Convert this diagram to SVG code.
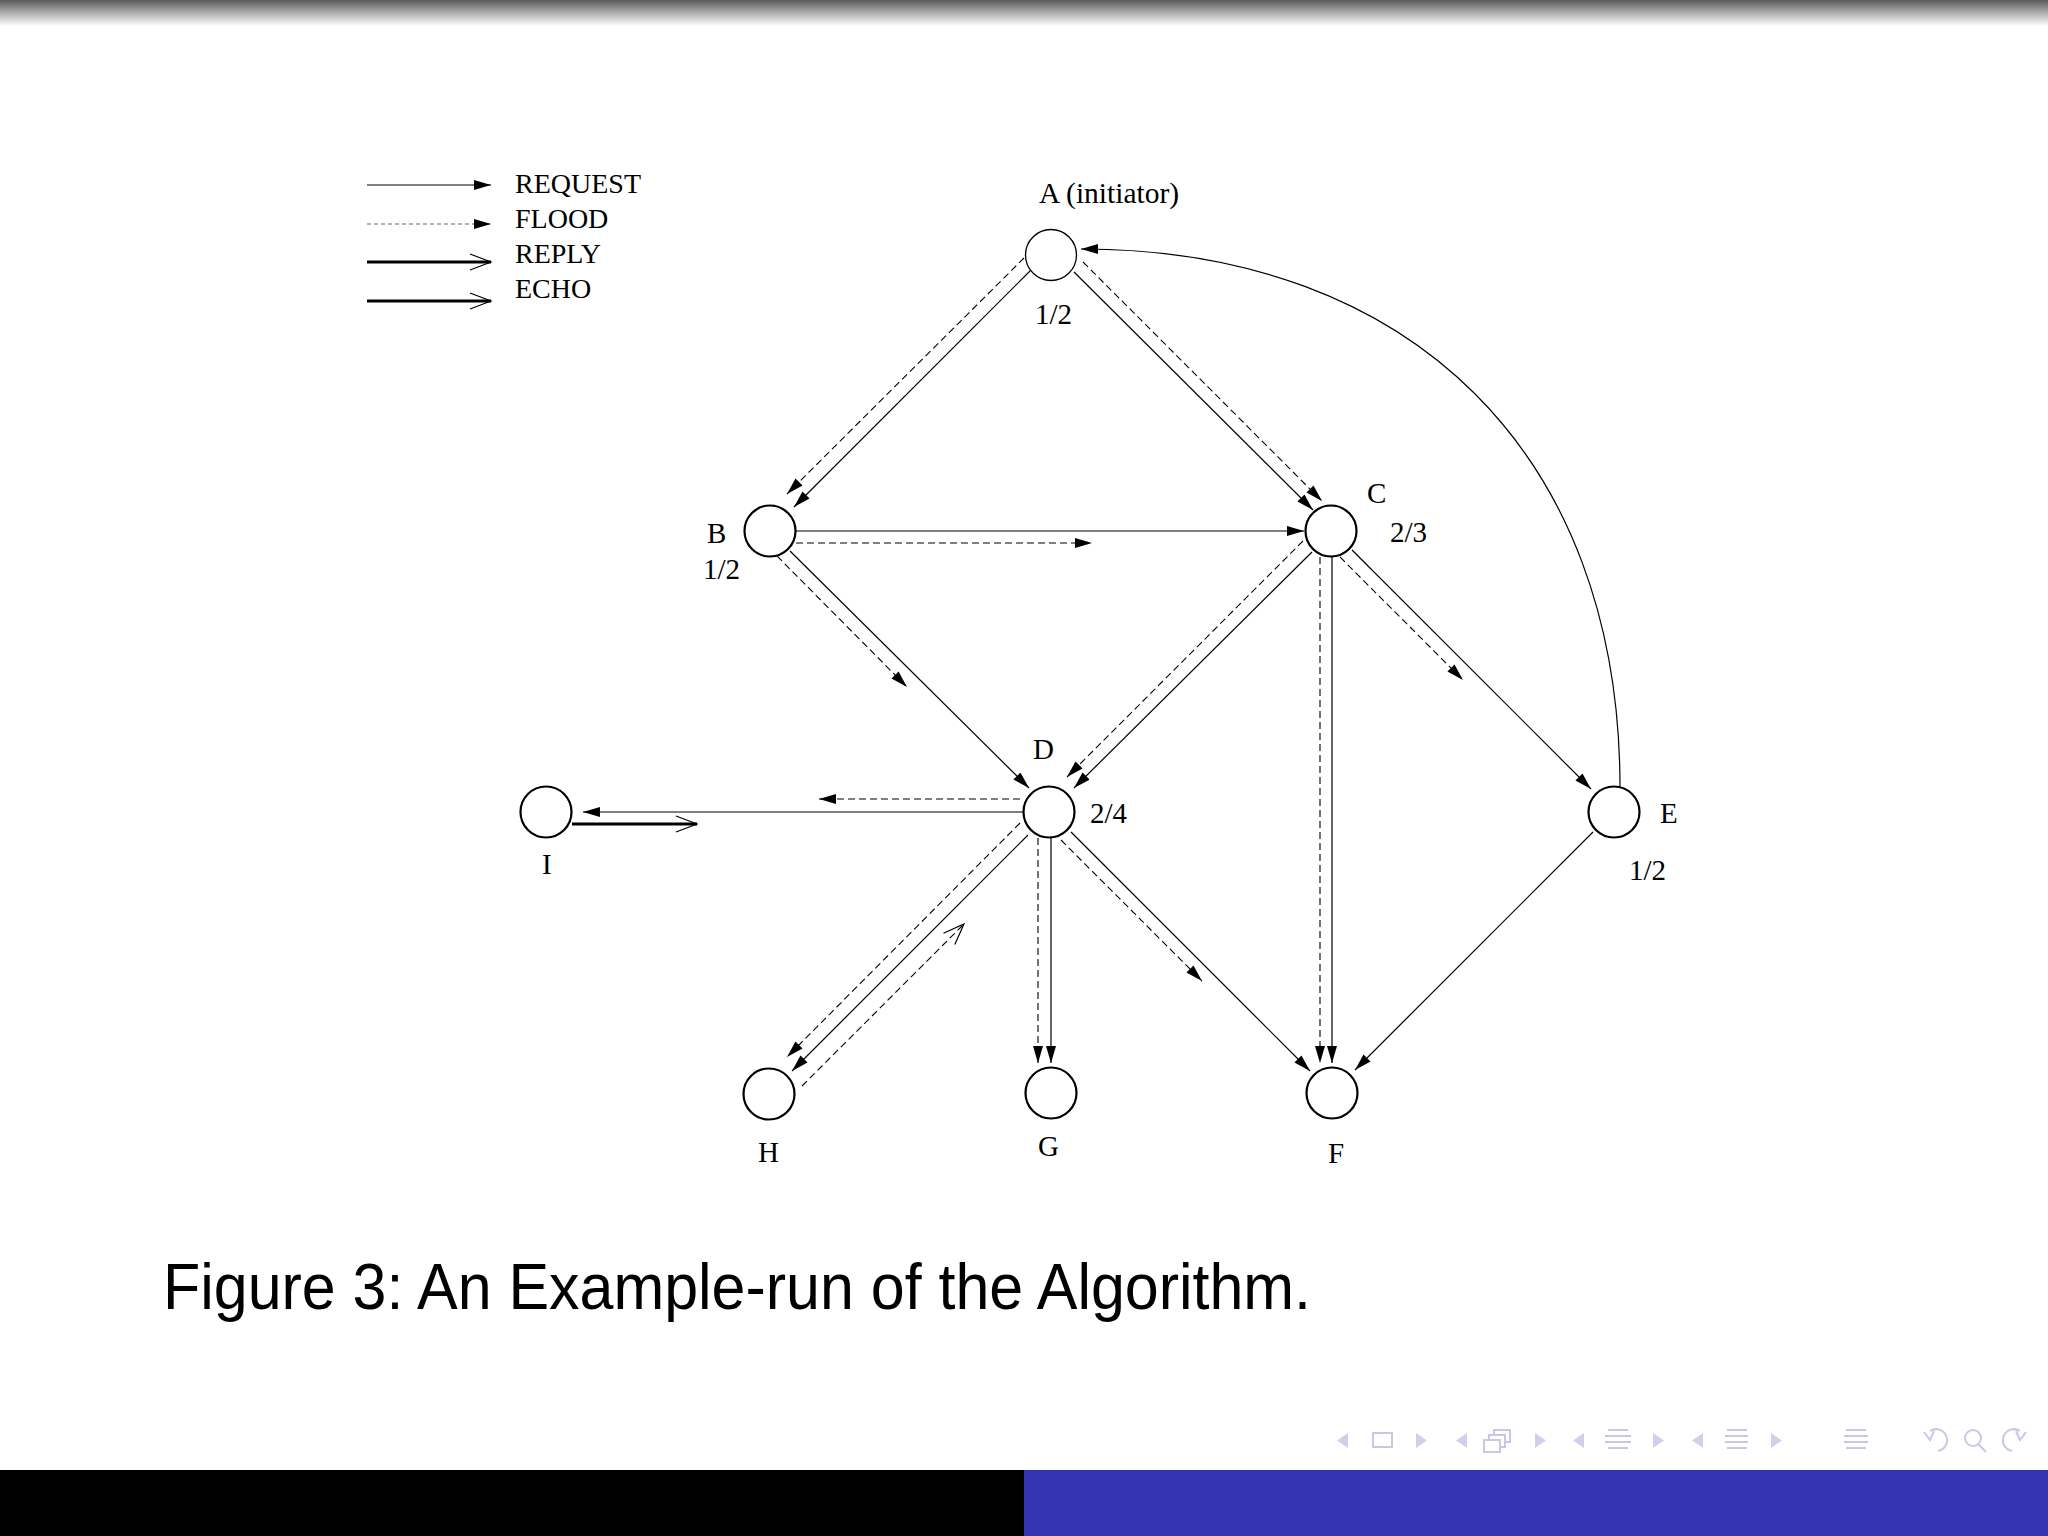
<svg xmlns="http://www.w3.org/2000/svg" width="2048" height="1536" viewBox="0 0 2048 1536">
<defs>
<linearGradient id="topg" x1="0" y1="0" x2="0" y2="1">
<stop offset="0" stop-color="#5a5a5a"/>
<stop offset="0.5" stop-color="#b0b0b0"/>
<stop offset="1" stop-color="#ffffff"/>
</linearGradient>
<marker id="fa" markerUnits="userSpaceOnUse" markerWidth="20" markerHeight="12" refX="17" refY="5" orient="auto">
<path d="M0,0 L17,5 L0,10 z" fill="#000"/>
</marker>
<marker id="oa" markerUnits="userSpaceOnUse" markerWidth="24" markerHeight="20" refX="22" refY="9" orient="auto">
<path d="M1,1 L22,9 L1,17" fill="none" stroke="#000" stroke-width="1.2"/>
</marker>
</defs>
<style>
.t{font-family:"Liberation Serif","Times New Roman",serif;font-size:28px;fill:#000}
.g{font-size:29px}
.n{fill:#fff;stroke:#000;stroke-width:2.2}
.s{stroke:#000;stroke-width:1.2;fill:none}
.d{stroke:#000;stroke-width:1.1;fill:none;stroke-dasharray:7 4}
.k{stroke:#000;stroke-width:3;fill:none}
.ic{fill:#d0d0ea;stroke:none}
.il{fill:none;stroke:#c8c8e6;stroke-width:2}
</style>
<rect x="0" y="0" width="2048" height="1536" fill="#fff"/>
<rect x="0" y="0" width="2048" height="26" fill="url(#topg)"/>

<g id="legend">
<line class="s" x1="367" y1="185" x2="491" y2="185" marker-end="url(#fa)"/>
<line x1="367" y1="224" x2="491" y2="224" style="stroke:#666;stroke-width:1.1;stroke-dasharray:4 3" marker-end="url(#fa)"/>
<line class="k" x1="367" y1="262" x2="491" y2="262" marker-end="url(#oa)"/>
<line class="k" x1="367" y1="301" x2="491" y2="301" marker-end="url(#oa)"/>
<text class="t" x="515" y="193">REQUEST</text>
<text class="t" x="515" y="228">FLOOD</text>
<text class="t" x="515" y="263">REPLY</text>
<text class="t" x="515" y="298">ECHO</text>
</g>

<g id="connectors">
<!-- A-B -->
<line class="s" x1="1031" y1="270" x2="794" y2="507" marker-end="url(#fa)"/>
<line class="d" x1="1024" y1="258" x2="787" y2="494" marker-end="url(#fa)"/>
<!-- A-C -->
<line class="s" x1="1074" y1="272" x2="1313" y2="510" marker-end="url(#fa)"/>
<line class="d" x1="1083" y1="262" x2="1322" y2="501" marker-end="url(#fa)"/>
<!-- B-C -->
<line class="s" x1="796" y1="531" x2="1304" y2="531" marker-end="url(#fa)"/>
<line class="d" x1="796" y1="543" x2="1092" y2="543" marker-end="url(#fa)"/>
<!-- B-D -->
<line class="s" x1="790" y1="551" x2="1029" y2="788" marker-end="url(#fa)"/>
<line class="d" x1="777" y1="556" x2="907" y2="687" marker-end="url(#fa)"/>
<!-- C-D -->
<line class="s" x1="1312" y1="552" x2="1074" y2="788" marker-end="url(#fa)"/>
<line class="d" x1="1303" y1="541" x2="1067" y2="777" marker-end="url(#fa)"/>
<!-- C-F -->
<line class="d" x1="1320" y1="557" x2="1320" y2="1063" marker-end="url(#fa)"/>
<line class="s" x1="1332" y1="557" x2="1332" y2="1063" marker-end="url(#fa)"/>
<!-- C-E -->
<line class="s" x1="1352" y1="550" x2="1591" y2="789" marker-end="url(#fa)"/>
<line class="d" x1="1340" y1="557" x2="1463" y2="680" marker-end="url(#fa)"/>
<!-- D-I -->
<line class="s" x1="1023" y1="812" x2="583" y2="812" marker-end="url(#fa)"/>
<line class="d" x1="1020" y1="799" x2="819" y2="799" marker-end="url(#fa)"/>
<line class="k" x1="572" y1="824" x2="697" y2="824" marker-end="url(#oa)"/>
<!-- D-H -->
<line class="s" x1="1028" y1="835" x2="792" y2="1071" marker-end="url(#fa)"/>
<line class="d" x1="1020" y1="823" x2="787" y2="1057" marker-end="url(#fa)"/>
<line class="d" x1="802" y1="1086" x2="964" y2="924" marker-end="url(#oa)"/>
<!-- D-G -->
<line class="d" x1="1038" y1="838" x2="1038" y2="1063" marker-end="url(#fa)"/>
<line class="s" x1="1051" y1="838" x2="1051" y2="1063" marker-end="url(#fa)"/>
<!-- D-F -->
<line class="s" x1="1071" y1="832" x2="1310" y2="1071" marker-end="url(#fa)"/>
<line class="d" x1="1061" y1="840" x2="1202" y2="981" marker-end="url(#fa)"/>
<!-- E-F -->
<line class="s" x1="1593" y1="832" x2="1355" y2="1070" marker-end="url(#fa)"/>
<!-- E-A arc -->
<path class="s" d="M1620,787 C1620,455 1412,249 1081,249" marker-end="url(#fa)"/>
</g>

<g id="node-A"><circle cx="1051" cy="255" r="25.5" class="n" style="stroke-width:1.3"/><text class="t" x="1039" y="203" style="font-size:29.5px">A (initiator)</text><text class="t g" x="1035" y="324">1/2</text></g>
<g id="node-B"><circle cx="770" cy="531" r="25.5" class="n"/><text class="t g" x="707" y="543">B</text><text class="t g" x="703" y="579">1/2</text></g>
<g id="node-C"><circle cx="1331" cy="531" r="25.5" class="n"/><text class="t g" x="1367" y="503">C</text><text class="t g" x="1390" y="542">2/3</text></g>
<g id="node-D"><circle cx="1049" cy="812" r="25.5" class="n"/><text class="t g" x="1033" y="759">D</text><text class="t g" x="1090" y="823">2/4</text></g>
<g id="node-E"><circle cx="1614" cy="812" r="25.5" class="n"/><text class="t g" x="1660" y="823">E</text><text class="t g" x="1629" y="880">1/2</text></g>
<g id="node-I"><circle cx="546" cy="812" r="25.5" class="n"/><text class="t g" x="542" y="874">I</text></g>
<g id="node-H"><circle cx="769" cy="1094" r="25.5" class="n"/><text class="t g" x="758" y="1162">H</text></g>
<g id="node-G"><circle cx="1051" cy="1093" r="25.5" class="n"/><text class="t g" x="1038" y="1156">G</text></g>
<g id="node-F"><circle cx="1332" cy="1093" r="25.5" class="n"/><text class="t g" x="1328" y="1163">F</text></g>

<text x="163" y="1309" font-family="Liberation Sans, Arial, sans-serif" font-size="65" fill="#000" textLength="1148" lengthAdjust="spacingAndGlyphs">Figure 3: An Example-run of the Algorithm.</text>

<g id="nav">
<path class="ic" d="M1348,1433 L1337,1440.5 L1348,1448 z"/>
<rect class="il" x="1373" y="1433" width="19" height="14"/>
<path class="ic" d="M1416,1433 L1427,1440.5 L1416,1448 z"/>
<path class="ic" d="M1467,1433 L1456,1440.5 L1467,1448 z"/>
<rect class="il" x="1494" y="1430" width="16" height="12" style="fill:#fff"/>
<rect class="il" x="1489" y="1435" width="16" height="12" style="fill:#fff"/>
<rect class="il" x="1484" y="1440" width="16" height="12" style="fill:#fff"/>
<path class="ic" d="M1535,1433 L1546,1440.5 L1535,1448 z"/>
<path class="ic" d="M1584,1433 L1573,1440.5 L1584,1448 z"/>
<path class="il" d="M1608,1430 H1628 M1605,1436 H1631 M1605,1442 H1631 M1608,1448 H1628"/>
<path class="ic" d="M1653,1433 L1664,1440.5 L1653,1448 z"/>
<path class="ic" d="M1703,1433 L1692,1440.5 L1703,1448 z"/>
<path class="il" d="M1727,1430 H1747 M1725,1436 H1748 M1725,1442 H1748 M1727,1448 H1747"/>
<path class="ic" d="M1771,1433 L1782,1440.5 L1771,1448 z"/>
<path class="il" d="M1846,1430 H1866 M1844,1436 H1868 M1844,1442 H1868 M1846,1448 H1866"/>
<path class="il" d="M1930,1431 A11,11 0 1 1 1938,1451 M1924,1432 L1930,1440 L1934,1431"/>
<circle class="il" cx="1973" cy="1438" r="8"/>
<path class="il" d="M1978,1444 L1986,1452"/>
<path class="il" d="M2020,1431 A11,11 0 1 0 2012,1451 M2026,1432 L2020,1440 L2016,1431"/>
</g>

<rect x="0" y="1470" width="1024" height="66" fill="#000"/>
<rect x="1024" y="1470" width="1024" height="66" fill="#3333b3"/>
</svg>
